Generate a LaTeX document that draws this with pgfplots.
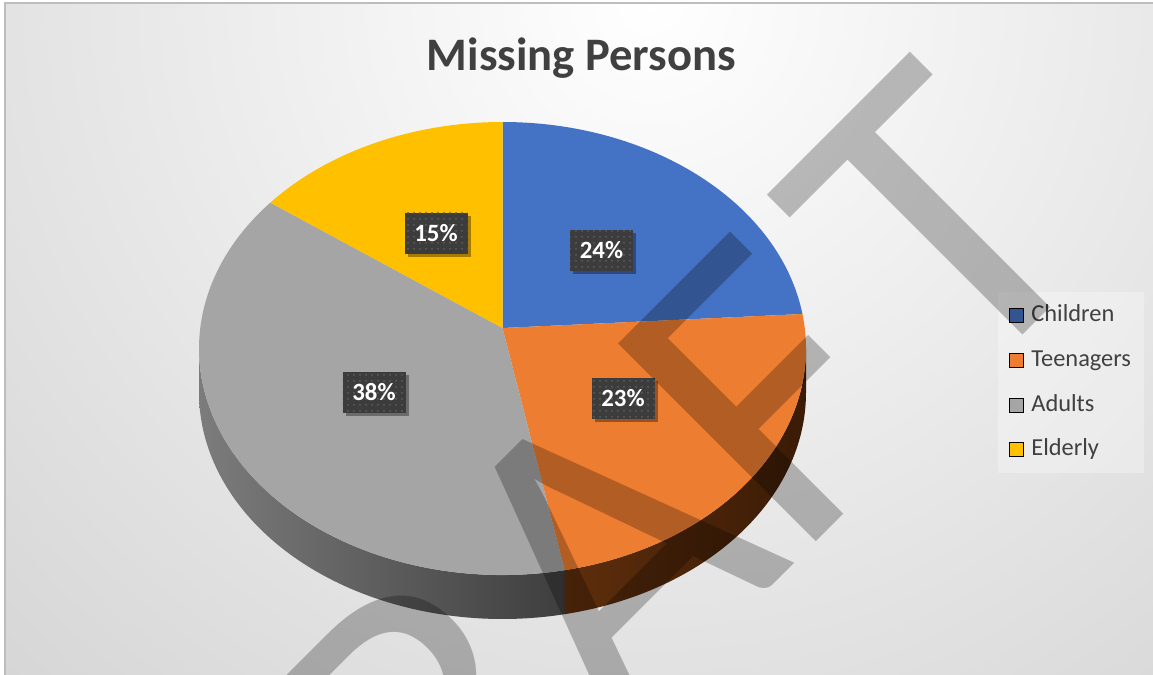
\documentclass[border=0pt]{standalone}
\usepackage{pgfplots}
\pgfplotsset{compat=1.18}
\usepackage{pgfplotstable}
\usepackage{fontspec}
\setmainfont{Carlito}
\usetikzlibrary{patterns,shadows}

\definecolor{cBlue}{HTML}{4472C4}
\definecolor{cOrange}{HTML}{ED7D31}
\definecolor{cGray}{HTML}{A5A5A5}
\definecolor{cYellow}{HTML}{FFC000}
\definecolor{txt}{HTML}{404040}
\definecolor{lbox}{HTML}{3C3C3C}
\definecolor{ldot}{HTML}{5E5E5E}
\definecolor{bgout}{HTML}{C6C6C6}
\definecolor{bord}{HTML}{BDBDBD}
\definecolor{sGrayL}{HTML}{7C7C7C}
\definecolor{sGrayR}{HTML}{3E3E3E}
\definecolor{sOrL}{HTML}{5E2E0C}
\definecolor{sOrR}{HTML}{3A1B06}

\pgfplotstableread{
name value
Children 24
Teenagers 23
Adults 38
Elderly 15
}\piedata

% geometry (pixel units of the 1153x675 picture)
\def\u{0.5pt}
\def\kk{0.0905}
\def\sq{0.9959}
\def\cx{502.5}\def\cy{328}
\def\ex{502.5}\def\ey{348.5}
\def\rx{303.5}\def\ry{226.5}
\def\dd{22pt}

\newcommand\sliceangles[1]{%
  \pgfplotstablegetelem{#1}{value}\of\piedata
  \pgfmathsetmacro\thA{90-3.6*\cum}%
  \pgfmathsetmacro\cum{\cum+\pgfplotsretval}%
  \pgfmathsetmacro\thB{90-3.6*\cum}%
  \pgfmathsetmacro\tA{atan2(sin(\thA)+\kk,\sq*cos(\thA))}%
  \pgfmathsetmacro\tB{atan2(sin(\thB)+\kk,\sq*cos(\thB))}%
  \pgfmathsetmacro\tB{\tB>=\tA ? \tB-360 : \tB}%
}
\newcommand\slicetop[2]{%
  \sliceangles{#1}%
  \pgfmathsetmacro\pX{\ex+\rx*cos(\tA)}%
  \pgfmathsetmacro\pY{\ey-\ry*sin(\tA)}%
  \fill[#2] (axis cs:\cx,\cy) -- (axis cs:\pX,\pY)
    arc[start angle=\tA,end angle=\tB,x radius=\rx*\u,y radius=\ry*\u] -- cycle;
}
\newcommand\sliceside[3]{%
  \sliceangles{#1}%
  \pgfmathsetmacro\sa{max(\tB,-180)}%
  \pgfmathsetmacro\sb{min(\tA,0)}%
  \ifdim\sa pt<\sb pt
    \pgfmathsetmacro\pX{\ex+\rx*cos(\sb)}%
    \pgfmathsetmacro\pY{\ey-\ry*sin(\sb)}%
    \shade[left color=#2,right color=#3] (axis cs:\pX,\pY)
      arc[start angle=\sb,end angle=\sa,x radius=\rx*\u,y radius=\ry*\u]
      -- ++(0pt,-\dd)
      arc[start angle=\sa,end angle=\sb,x radius=\rx*\u,y radius=\ry*\u] -- cycle;
  \fi
}

\tikzset{lbl/.style={fill=lbox, text=white,
  font=\fontsize{12.4}{14}\selectfont\bfseries,
  minimum width=31.5pt, minimum height=20.5pt, inner sep=0pt,
  postaction={pattern=dots, pattern color=ldot},
  drop shadow={shadow xshift=1.6pt, shadow yshift=-1.6pt, opacity=0.35, fill=black}}}

\begin{document}
\begin{tikzpicture}
% background
\fill[white] (0,0) rectangle (576.5pt,337.5pt);
\begin{scope}
  \clip (2.5pt,0pt) rectangle (576.5pt,336pt);
  \fill[bgout] (2.5pt,0pt) rectangle (576.5pt,336pt);
  \shade[inner color=white, outer color=bgout] (325pt,337.5pt) circle (650pt);
\end{scope}
\draw[bord, line width=0.6pt] (2.5pt,0pt) -- (2.5pt,336pt) -- (576.5pt,336pt);

\begin{axis}[at={(0,0)}, anchor=south west,
  width=576.5pt, height=337.5pt, scale only axis,
  xmin=0, xmax=1153, ymin=0, ymax=675, y dir=reverse,
  hide axis, clip=false,
  legend style={at={(axis cs:998,292)}, anchor=north west, draw=none,
    fill=white, fill opacity=0.3, text opacity=1,
    font=\fontsize{12.2}{14}\selectfont, text=txt,
    inner xsep=5.5pt, inner ysep=4.5pt, row sep=8.4pt,
    nodes={inner sep=1pt, text height=9pt, text depth=3pt},
    /tikz/every odd column/.append style={column sep=2.6pt}},
  legend cell align=left,
  legend image code/.code={\fill[#1, fill opacity=1] (0pt,-3.5pt) rectangle (7pt,3.5pt);}
]
\addlegendimage{fill=cBlue}
\addlegendimage{fill=cOrange}
\addlegendimage{fill=cGray}
\addlegendimage{fill=cYellow}
\legend{Children,Teenagers,Adults,Elderly}

\pgfplotsextra{%
  \def\cum{0}%
  \sliceside{0}{cBlue!50!black}{cBlue!40!black}%
  \sliceside{1}{sOrL}{sOrR}%
  \sliceside{2}{sGrayL}{sGrayR}%
  \sliceside{3}{cYellow!50!black}{cYellow!40!black}%
  \def\cum{0}%
  \slicetop{0}{cBlue}%
  \slicetop{1}{cOrange}%
  \slicetop{2}{cGray}%
  \slicetop{3}{cYellow}%
}

\node[lbl] at (axis cs:601.5,250) {24\%};
\node[lbl] at (axis cs:623,398) {23\%};
\node[lbl] at (axis cs:374,392) {38\%};
\node[lbl] at (axis cs:436,233) {15\%};

\node[anchor=base, text=txt, font=\fontsize{23.3}{28}\selectfont\bfseries, inner sep=0pt]
  at (axis cs:581.5,70.7) {Missing Persons};
\end{axis}

% watermark
\begin{scope}
  \clip (2.5pt,0pt) rectangle (576.5pt,336pt);
  \node[rotate=45, anchor=base east, inner sep=0pt, text=black, text opacity=0.25,
    font=\fontsize{218}{218}\selectfont] at (556pt,214.5pt) {DRAF\kern17pt T};
\end{scope}
\pgfresetboundingbox
\useasboundingbox (0,0) rectangle (576.5pt,337.5pt);
\end{tikzpicture}
\end{document}
